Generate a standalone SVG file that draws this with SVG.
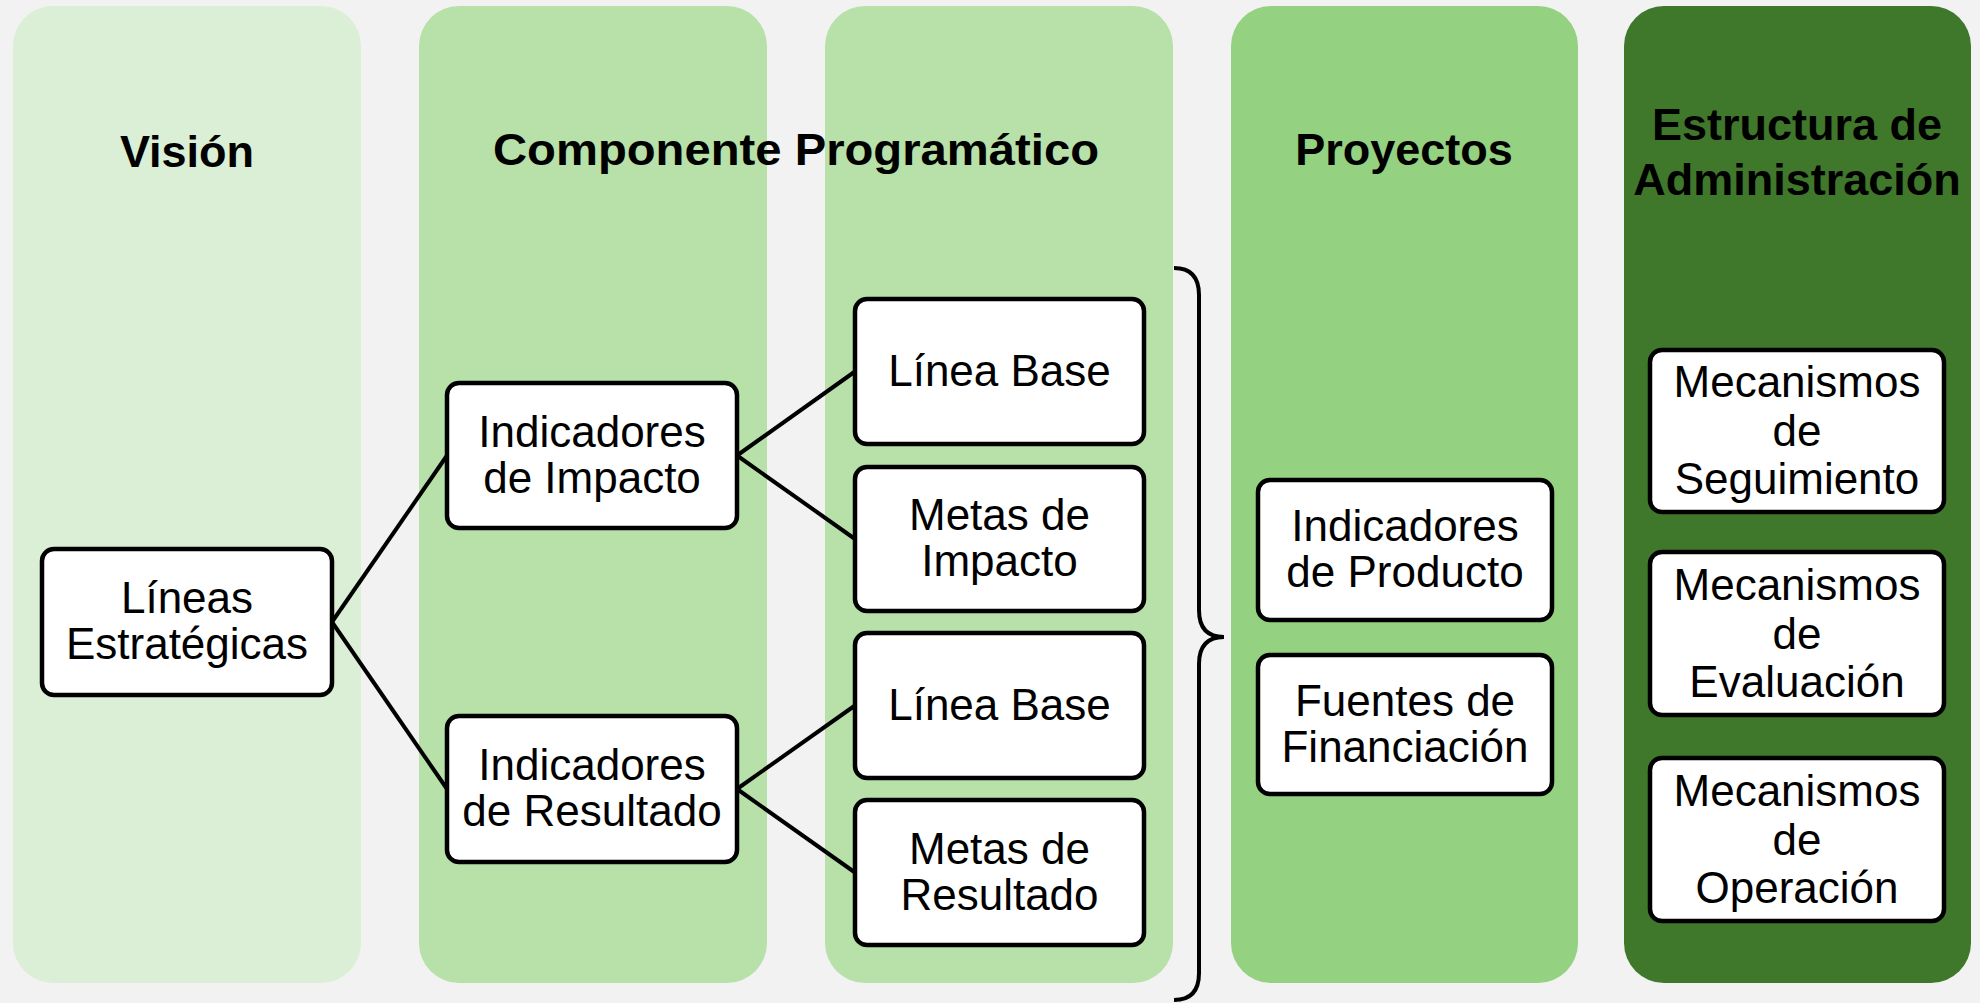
<svg xmlns="http://www.w3.org/2000/svg" width="1980" height="1003" viewBox="0 0 1980 1003">
<style>
.col{stroke:none}
.box{fill:#fff;stroke:#000;stroke-width:4.5}
.t{font-family:"Liberation Sans",Arial,sans-serif;font-size:44px;fill:#000;text-anchor:middle}
.h{font-family:"Liberation Sans",Arial,sans-serif;font-size:45px;font-weight:bold;fill:#000;text-anchor:middle}
.ln{stroke:#000;stroke-width:4;fill:none}
</style>
<rect x="0" y="0" width="1980" height="1003" fill="#f2f2f2"/>
<g id="columns">
<rect id="col-vision" class="col" x="13" y="6" width="348" height="977" rx="40" fill="#daefd5"/>
<rect id="col-comp1" class="col" x="419" y="6" width="348" height="977" rx="40" fill="#b7e1a8"/>
<rect id="col-comp2" class="col" x="825" y="6" width="348" height="977" rx="40" fill="#b7e1a8"/>
<rect id="col-proy" class="col" x="1231" y="6" width="347" height="977" rx="40" fill="#94d180"/>
<rect id="col-estr" class="col" x="1624" y="6" width="347" height="977" rx="40" fill="#3f772b"/>
</g>
<g id="titles">
<text class="h" x="187" y="167">Visión</text>
<text class="h" x="796" y="165" textLength="606" lengthAdjust="spacingAndGlyphs">Componente Programático</text>
<text class="h" x="1404" y="165">Proyectos</text>
<text class="h" x="1797" y="140">Estructura de</text>
<text class="h" x="1797" y="195">Administración</text>
</g>
<g id="connectors">
<line class="ln" x1="332" y1="622" x2="447" y2="455.5"/>
<line class="ln" x1="332" y1="622" x2="447" y2="789"/>
<line class="ln" x1="737" y1="455.5" x2="855" y2="371.5"/>
<line class="ln" x1="737" y1="455.5" x2="855" y2="539"/>
<line class="ln" x1="737" y1="789" x2="855" y2="705.5"/>
<line class="ln" x1="737" y1="789" x2="855" y2="872.5"/>
<path id="brace" class="ln" d="M1174,268 Q1199,268 1199,295 L1199,610 Q1199,637 1224,637 Q1199,637 1199,664 L1199,973 Q1199,1000 1174,1000"/>
</g>
<g id="n-lineas"><rect class="box" x="42" y="549" width="290" height="146" rx="12"/><text class="t" x="187" y="613">Líneas</text><text class="t" x="187" y="659">Estratégicas</text></g>
<g id="n-impacto"><rect class="box" x="447" y="383" width="290" height="145" rx="12"/><text class="t" x="592" y="447">Indicadores</text><text class="t" x="592" y="493">de Impacto</text></g>
<g id="n-resultado"><rect class="box" x="447" y="716" width="290" height="146" rx="12"/><text class="t" x="592" y="780">Indicadores</text><text class="t" x="592" y="826">de Resultado</text></g>
<g id="n-lb1"><rect class="box" x="855" y="299" width="289" height="145" rx="12"/><text class="t" x="999.5" y="386">Línea Base</text></g>
<g id="n-mi"><rect class="box" x="855" y="467" width="289" height="144" rx="12"/><text class="t" x="999.5" y="530">Metas de</text><text class="t" x="999.5" y="576">Impacto</text></g>
<g id="n-lb2"><rect class="box" x="855" y="633" width="289" height="145" rx="12"/><text class="t" x="999.5" y="720">Línea Base</text></g>
<g id="n-mr"><rect class="box" x="855" y="800" width="289" height="145" rx="12"/><text class="t" x="999.5" y="864">Metas de</text><text class="t" x="999.5" y="910">Resultado</text></g>
<g id="n-producto"><rect class="box" x="1258" y="480" width="294" height="140" rx="12"/><text class="t" x="1405" y="541">Indicadores</text><text class="t" x="1405" y="587">de Producto</text></g>
<g id="n-fuentes"><rect class="box" x="1258" y="655" width="294" height="139" rx="12"/><text class="t" x="1405" y="716">Fuentes de</text><text class="t" x="1405" y="762">Financiación</text></g>
<g id="n-seg"><rect class="box" x="1650" y="350" width="294" height="162" rx="12"/><text class="t" x="1797" y="397">Mecanismos</text><text class="t" x="1797" y="446">de</text><text class="t" x="1797" y="494">Seguimiento</text></g>
<g id="n-eval"><rect class="box" x="1650" y="552" width="294" height="163" rx="12"/><text class="t" x="1797" y="600">Mecanismos</text><text class="t" x="1797" y="649">de</text><text class="t" x="1797" y="697">Evaluación</text></g>
<g id="n-oper"><rect class="box" x="1650" y="758" width="294" height="163" rx="12"/><text class="t" x="1797" y="806">Mecanismos</text><text class="t" x="1797" y="855">de</text><text class="t" x="1797" y="903">Operación</text></g>
</svg>
